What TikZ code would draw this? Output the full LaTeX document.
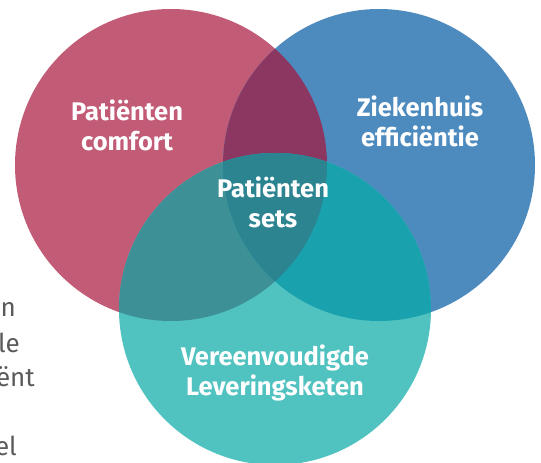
\documentclass[tikz,border=0pt]{standalone}
\usepackage{fontspec}
\setmainfont{Fira Sans}
\definecolor{comfortpink}{HTML}{C25B76}
\definecolor{hospitalblue}{HTML}{4D8BBF}
\definecolor{chainteal}{HTML}{50C2C0}
\definecolor{pinkblue}{HTML}{8B3762}
\definecolor{pinkteal}{HTML}{3D9096}
\definecolor{blueteal}{HTML}{19A1AE}
\definecolor{allthree}{HTML}{2C8491}
\definecolor{sidegray}{HTML}{5A5A5A}
\begin{document}
\begin{tikzpicture}[x=1pt, y=-1pt,
    setlabel/.style={text=white, align=center, anchor=base, inner sep=0pt,
      font=\fontsize{25.5}{30}\selectfont\bfseries},
    sidetext/.style={text=sidegray, anchor=base east, inner sep=0pt,
      font=\fontsize{26}{30}\selectfont}]
      \useasboundingbox (0, 0) rectangle (541, 463);

      % the three sets
      \fill[comfortpink] (171, 165) circle (156);
      \fill[hospitalblue] (379, 165) circle (156);
      \fill[chainteal] (275, 309) circle (156);

      % overlaps
      \begin{scope}
        \clip (171, 165) circle (156);
        \fill[pinkblue] (379, 165) circle (156);
        \fill[pinkteal] (275, 309) circle (156);
      \end{scope}
      \begin{scope}
        \clip (379, 165) circle (156);
        \fill[blueteal] (275, 309) circle (156);
        \clip (171, 165) circle (156);
        \fill[allthree] (275, 309) circle (156);
      \end{scope}

      % labels, placed at the baseline of their last line
      \node[setlabel] (comfort) at (127, 150){Patiënten\\comfort};
      \node[setlabel] (efficiency) at (420, 146){Ziekenhuis\\efficiëntie};
      \node[setlabel] (sets) at (273, 227){Patiënten\\sets};
      \node[setlabel] (chain) at (275, 395){Vereenvoudigde\\Leveringsketen};

      % cut-off text on the left
      \node[sidetext] (lineA) at (16, 316){n};
      \node[sidetext] (lineB) at (20, 352){le};
      \node[sidetext] (lineC) at (35, 386){ënt};
      \node[sidetext] (lineD) at (17, 455){el};

    \end{tikzpicture}
\end{document}
